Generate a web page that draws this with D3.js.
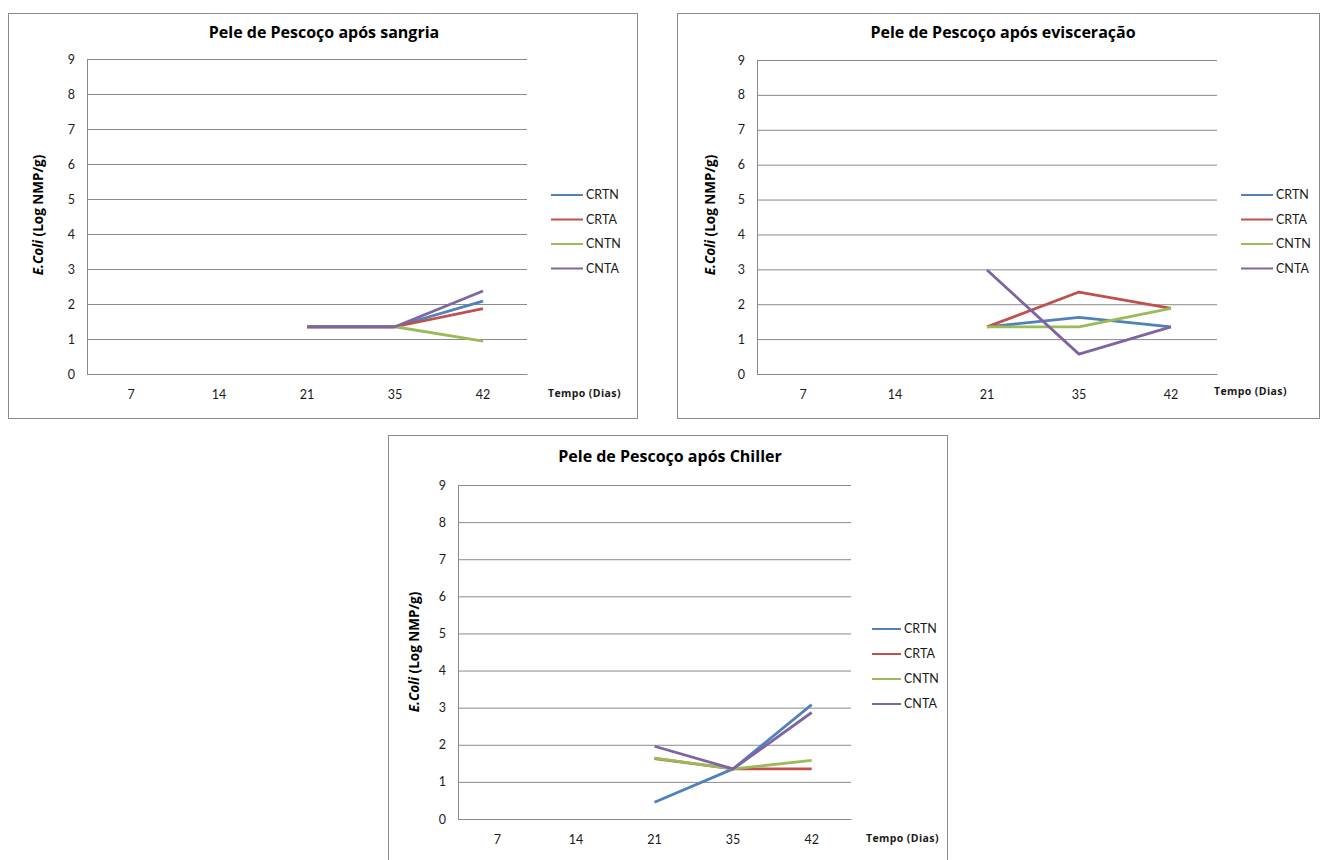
<!DOCTYPE html>
<html>
<head>
<meta charset="utf-8">
<script src="https://cdn.jsdelivr.net/npm/d3@7"></script>
<style>
  html, body { margin: 0; padding: 0; background: #fff; }
  svg { display: block; }
  text { font-family: Lato, "Open Sans", sans-serif; }
</style>
</head>
<body>
<svg id="chart" width="1320" height="860"></svg>
<script>
// Sampling days (x axis) and treatment groups
const categories = ["7", "14", "21", "35", "42"];
const seriesNames = ["CRTN", "CRTA", "CNTN", "CNTA"];
const yTicks = [0, 1, 2, 3, 4, 5, 6, 7, 8, 9];

// E. coli counts (Log NMP/g), neck skin after bleeding
const sangriaCRTN = [null, null, 1.35, 1.35, 2.08];
const sangriaCRTA = [null, null, 1.35, 1.35, 1.87];
const sangriaCNTN = [null, null, 1.35, 1.35, 0.94];
const sangriaCNTA = [null, null, 1.35, 1.35, 2.37];

// neck skin after evisceration
const evisceracaoCRTN = [null, null, 1.35, 1.62, 1.35];
const evisceracaoCRTA = [null, null, 1.35, 2.35, 1.88];
const evisceracaoCNTN = [null, null, 1.35, 1.35, 1.88];
const evisceracaoCNTA = [null, null, 2.98, 0.57, 1.35];

// neck skin after chiller
const chillerCRTN = [null, null, 0.45, 1.35, 3.08];
const chillerCRTA = [null, null, 1.63, 1.35, 1.35];
const chillerCNTN = [null, null, 1.64, 1.35, 1.58];
const chillerCNTA = [null, null, 1.96, 1.35, 2.87];

const seriesColors = ["#4F81BD", "#C0504D", "#9BBB59", "#8064A2"];

const panels = [
  {
    title: "Pele de Pescoço após sangria",
    series: [sangriaCRTN, sangriaCRTA, sangriaCNTN, sangriaCNTA],
    frame: { x: 8.5, y: 13.5, w: 629, h: 405 },
    plot: { l: 87, r: 527, t: 59, b: 374 },
    titleX: 324, titleY: 38,
    yLabelX: 38, yLabelY: 215,
    legendX: 551, legendY: 195, legendStep: 24.5, legendLen: 32,
    tempoX: 548, tempoY: 393
  },
  {
    title: "Pele de Pescoço após evisceração",
    series: [evisceracaoCRTN, evisceracaoCRTA, evisceracaoCNTN, evisceracaoCNTA],
    frame: { x: 677.5, y: 13.5, w: 642, h: 405 },
    plot: { l: 757, r: 1217, t: 60, b: 374 },
    titleX: 1003, titleY: 38,
    yLabelX: 710, yLabelY: 215,
    legendX: 1241, legendY: 195, legendStep: 24.5, legendLen: 32,
    tempoX: 1214, tempoY: 391
  },
  {
    title: "Pele de Pescoço após Chiller",
    series: [chillerCRTN, chillerCRTA, chillerCNTN, chillerCNTA],
    frame: { x: 388.5, y: 435.5, w: 559, h: 440 },
    plot: { l: 458, r: 851, t: 485, b: 819 },
    titleX: 670, titleY: 462,
    yLabelX: 414, yLabelY: 652,
    legendX: 872, legendY: 629, legendStep: 25, legendLen: 29,
    tempoX: 866, tempoY: 838
  }
];

const svg = d3.select("#chart");

panels.forEach(p => {
  const g = svg.append("g");

  // chart frame
  g.append("rect")
    .attr("x", p.frame.x).attr("y", p.frame.y)
    .attr("width", p.frame.w).attr("height", p.frame.h)
    .attr("fill", "#fff").attr("stroke", "#8a8a8a").attr("stroke-width", 1);

  const x = d3.scaleBand().domain(categories).range([p.plot.l, p.plot.r]);
  const y = d3.scaleLinear().domain([0, 9]).range([p.plot.b, p.plot.t]);

  // horizontal gridlines + value labels
  const yAxis = g.append("g")
    .attr("transform", `translate(${p.plot.l},0)`)
    .call(d3.axisLeft(y).tickValues(yTicks).tickSize(-(p.plot.r - p.plot.l)).tickPadding(12));
  yAxis.select(".domain").remove();
  yAxis.selectAll(".tick line").attr("stroke", "#8a8a8a").attr("stroke-width", 1);
  yAxis.selectAll(".tick text")
    .attr("fill", "#1a1a1a").style("font-size", "12.5px").style("font-family", "Lato, sans-serif");

  // vertical axis line
  g.append("line")
    .attr("x1", p.plot.l + 0.5).attr("x2", p.plot.l + 0.5)
    .attr("y1", p.plot.t).attr("y2", p.plot.b)
    .attr("stroke", "#8a8a8a");

  // category axis
  const xAxis = g.append("g")
    .attr("transform", `translate(0,${p.plot.b})`)
    .call(d3.axisBottom(x).tickSize(0).tickPadding(16));
  xAxis.select(".domain").attr("stroke", "#8a8a8a");
  xAxis.selectAll(".tick text")
    .attr("fill", "#1a1a1a").style("font-size", "12.5px").style("font-family", "Lato, sans-serif");

  // series lines
  const line = d3.line()
    .defined(d => d.v != null)
    .x(d => x(d.c) + x.bandwidth() / 2)
    .y(d => y(d.v));

  p.series.forEach((vals, i) => {
    const pts = categories.map((c, k) => ({ c, v: vals[k] }));
    g.append("path")
      .datum(pts)
      .attr("d", line)
      .attr("fill", "none")
      .attr("stroke", seriesColors[i])
      .attr("stroke-width", 2.8)
      .attr("stroke-linejoin", "round");
  });

  // title
  g.append("text")
    .attr("x", p.titleX).attr("y", p.titleY)
    .attr("text-anchor", "middle")
    .style("font-family", "'Open Sans', sans-serif")
    .style("font-size", "16px").style("font-weight", "bold")
    .attr("fill", "#000")
    .text(p.title);

  // y axis label
  const yl = g.append("text")
    .attr("transform", `translate(${p.yLabelX},${p.yLabelY}) rotate(-90)`)
    .attr("text-anchor", "middle")
    .attr("dy", "0.35em")
    .style("font-family", "'Open Sans', sans-serif")
    .style("font-size", "13.5px").style("font-weight", "bold")
    .attr("fill", "#000");
  yl.append("tspan").style("font-style", "italic").text("E.Coli");
  yl.append("tspan").text(" (Log NMP/g)");

  // x axis title
  g.append("text")
    .attr("x", p.tempoX).attr("y", p.tempoY)
    .attr("dy", "0.35em")
    .style("font-family", "'Open Sans', sans-serif")
    .style("font-size", "10.5px").style("font-weight", "bold")
    .style("letter-spacing", "0.4px")
    .attr("fill", "#1a1a1a")
    .text("Tempo (Dias)");

  // legend
  seriesNames.forEach((name, i) => {
    const ly = p.legendY + i * p.legendStep;
    g.append("line")
      .attr("x1", p.legendX).attr("x2", p.legendX + p.legendLen)
      .attr("y1", ly).attr("y2", ly)
      .attr("stroke", seriesColors[i]).attr("stroke-width", 2);
    g.append("text")
      .attr("x", p.legendX + p.legendLen + 3).attr("y", ly)
      .attr("dy", "0.35em")
      .style("font-size", "12.5px")
      .attr("fill", "#1a1a1a")
      .text(name);
  });
});
</script>
</body>
</html>
